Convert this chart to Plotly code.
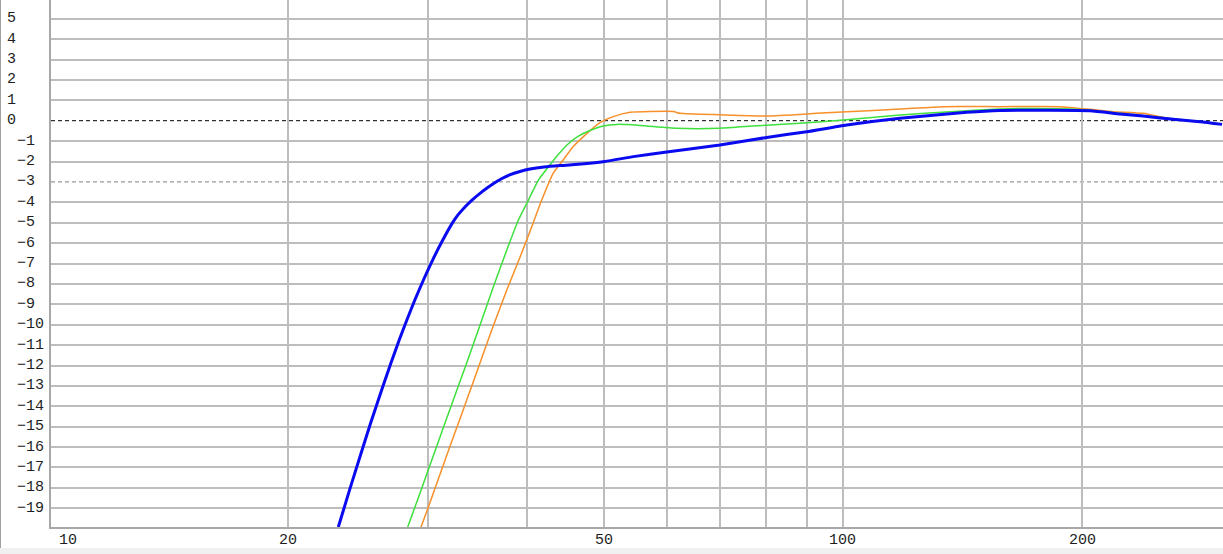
import math
import plotly.graph_objects as go

# ---- data ----
blue_f = [23.14, 23.91, 24.64, 25.41, 26.24, 26.95, 27.61, 28.23, 28.89, 29.62, 30.42, 31.33, 32.22,
          32.74, 33.41, 34.10, 34.90, 35.62, 36.35, 37.09, 38.02, 39.19, 40.35, 42.02, 44.01, 45.97,
          50.13, 54.44, 59.98, 69.98, 80.17, 90.0, 101.1, 118.0, 143.2, 157.7, 180.0, 204.7, 223.3,
          238.7, 260.4, 281.6, 300.2]
blue_db = [-19.92, -18.10, -16.47, -14.83, -13.20, -11.89, -10.75, -9.77, -8.79, -7.81, -6.83, -5.85, -5.01,
           -4.62, -4.23, -3.89, -3.56, -3.30, -3.07, -2.86, -2.66, -2.49, -2.37, -2.27, -2.20, -2.15,
           -2.00, -1.76, -1.53, -1.19, -0.82, -0.54, -0.21, 0.12, 0.41, 0.50, 0.51, 0.49, 0.33,
           0.23, 0.07, -0.05, -0.18]

green_f = [28.22, 29.33, 30.19, 31.08, 31.99, 32.94, 33.91, 34.73, 36.28, 37.72, 39.01, 40.16, 41.34,
           42.55, 43.79, 45.05, 46.37, 48.01, 49.86, 51.93, 55.51, 61.75, 69.98, 77.86, 88.29, 100.1,
           118.0, 136.4, 157.7, 172.0, 198.9, 223.3, 260.4, 300.2]
green_db = [-20.05, -18.25, -16.88, -15.51, -14.14, -12.77, -11.41, -10.26, -8.14, -6.34, -4.87, -3.89, -2.91,
            -2.27, -1.66, -1.14, -0.77, -0.48, -0.26, -0.18, -0.23, -0.37, -0.37, -0.25, -0.13, 0.03,
            0.28, 0.44, 0.57, 0.60, 0.55, 0.36, 0.09, -0.16]

orange_f = [29.33, 30.05, 31.08, 31.99, 33.11, 34.08, 35.08, 36.11, 37.72, 39.21, 40.55, 41.74, 43.15,
            44.42, 45.74, 47.10, 49.43, 51.37, 53.92, 57.14, 61.14, 62.34, 69.98, 80.17, 92.67, 101.1,
            118.0, 133.8, 157.7, 187.6, 204.7, 219.0, 238.8, 260.4, 300.2]
orange_db = [-20.05, -18.93, -17.33, -15.96, -14.36, -13.00, -11.63, -10.26, -8.30, -6.67, -5.20, -3.89, -2.58,
             -1.93, -1.27, -0.78, -0.09, 0.20, 0.41, 0.45, 0.45, 0.36, 0.29, 0.23, 0.36, 0.44,
             0.57, 0.69, 0.69, 0.69, 0.56, 0.44, 0.36, 0.07, -0.18]

x_grid = [20, 30, 40, 50, 60, 70, 80, 90, 100, 200]
x_tick_vals = [10, 20, 50, 100, 200]
x_tick_text = ["10", "20", "50", "100", "200"]
y_tick_vals = [5, 4, 3, 2, 1, 0, -1, -2, -3, -4, -5, -6, -7, -8, -9, -10, -11, -12, -13, -14,
               -15, -16, -17, -18, -19]
y_dashed = [0, -3]

# ---- layout geometry ----
W, H = 1223, 554
ML, MR, MT, MB = 51, 0, 0, 27
PW, PH = W - ML - MR, H - MT - MB
XR = [1.00252, 2.47859]
YR = [-19.917, 5.917]

FONT = dict(family="Liberation Mono, DejaVu Sans Mono, monospace", size=15, color="#1e1e1e")

fig = go.Figure()
fig.add_trace(go.Scatter(x=orange_f, y=orange_db, mode="lines",
                         line=dict(color="#f7902a", width=1.5, shape="spline", smoothing=0.5),
                         hoverinfo="skip"))
fig.add_trace(go.Scatter(x=green_f, y=green_db, mode="lines",
                         line=dict(color="#3de03d", width=1.5, shape="spline", smoothing=0.5),
                         hoverinfo="skip"))
fig.add_trace(go.Scatter(x=blue_f, y=blue_db, mode="lines",
                         line=dict(color="#0a0af0", width=3, shape="spline", smoothing=0.5),
                         hoverinfo="skip"))

shapes = []
for v in y_dashed:
    shapes.append(dict(type="line", xref="paper", yref="y", x0=0, x1=1, y0=v, y1=v,
                       line=dict(color="#000000" if v == 0 else "#808080", width=1, dash="4px,3px"),
                       layer="below"))
# bottom light strip and left outer line
shapes.append(dict(type="rect", xref="paper", yref="paper",
                   x0=-ML / PW, x1=1, y0=-(H - MT - PH) / PH, y1=-(548 - PH) / PH,
                   fillcolor="#f0f0f0", line=dict(width=0), layer="below"))
shapes.append(dict(type="line", xref="paper", yref="paper",
                   x0=-(ML - 0.5) / PW, x1=-(ML - 0.5) / PW, y0=-(548 - PH) / PH, y1=1,
                   line=dict(color="#a0a0a0", width=1)))

annotations = []
for v, t in zip(x_tick_vals, x_tick_text):
    px = (math.log10(v) - XR[0]) / (XR[1] - XR[0])
    annotations.append(dict(xref="paper", yref="paper", x=px, y=-(540 - PH) / PH,
                            text=t, showarrow=False, xanchor="center", yanchor="middle",
                            xshift=19 if v == 10 else 0, font=FONT))
for v in y_tick_vals:
    lx = 5 if v >= 0 else 15
    annotations.append(dict(xref="paper", yref="y", x=(lx - ML) / PW, y=v,
                            text=str(v).replace("-", "\u2212"), showarrow=False,
                            xanchor="left", yanchor="middle", font=FONT))

fig.update_layout(
    width=W, height=H,
    margin=dict(l=ML, r=MR, t=MT, b=MB),
    paper_bgcolor="#ffffff", plot_bgcolor="#ffffff",
    showlegend=False,
    shapes=shapes, annotations=annotations,
    xaxis=dict(type="log", range=XR, tickvals=x_grid, showticklabels=False, ticks="",
               showgrid=True, gridcolor="#bdbdbd", gridwidth=1.5, zeroline=False,
               showline=True, linecolor="#a8a8a8", linewidth=1.5, fixedrange=True),
    yaxis=dict(range=YR, tickvals=[v for v in y_tick_vals if v not in y_dashed],
               showticklabels=False, ticks="", showgrid=True, gridcolor="#bdbdbd", gridwidth=1.5,
               zeroline=False, showline=True, linecolor="#a8a8a8", linewidth=1.5, fixedrange=True),
)

fig.write_html("out.html", config=dict(displayModeBar=False),
               post_script="document.body.style.margin='0';document.body.style.overflow='hidden';")
